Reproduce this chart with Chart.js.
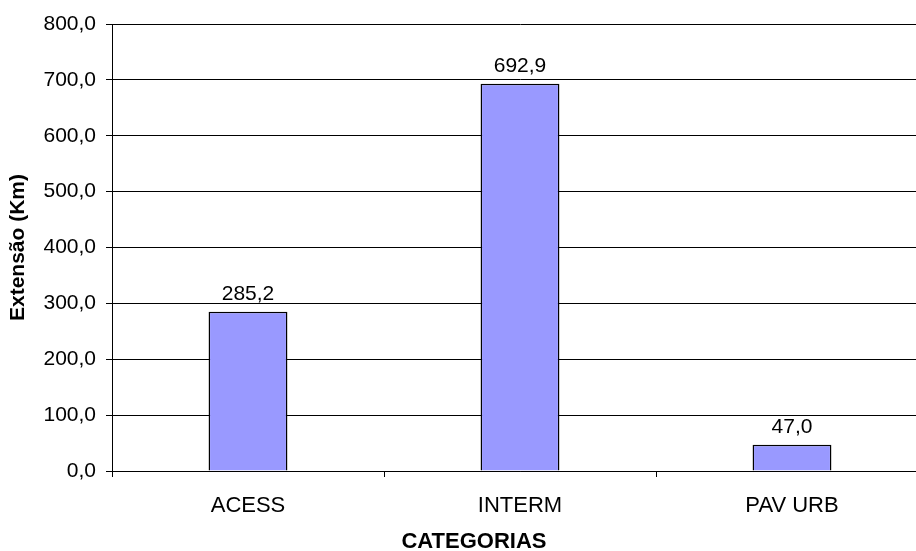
<!DOCTYPE html>
<html>
<head>
<meta charset="utf-8">
<script src="https://cdn.jsdelivr.net/npm/chart.js@4"></script>
<style>
    html, body { margin: 0; padding: 0; background: #fff; overflow: hidden; }
    #wrap { width: 916px; height: 551px; overflow: hidden; }
</style>
</head>
<body>
<div id="wrap"><canvas id="extChart" width="928" height="551"></canvas></div>
<script>
// Chart data
const categories = ["ACESS", "INTERM", "PAV URB"];
const extensao = [285.2, 692.9, 47.0];
const yTicks = [0, 100, 200, 300, 400, 500, 600, 700, 800];
const xTitle = "CATEGORIAS";

const fontName = "'Liberation Sans', Arial, sans-serif";

// Portuguese style number: 285,2
function fmt(v) {
    return v.toFixed(1).replace(".", ",");
}

// Value labels above each bar + x axis title
const barLabels = {
    id: "barLabels",
    afterDatasetsDraw(chart) {
        const ctx = chart.ctx;
        const meta = chart.getDatasetMeta(0);
        ctx.save();
        ctx.font = "21px " + fontName;
        ctx.fillStyle = "#000";
        ctx.textAlign = "center";
        ctx.textBaseline = "alphabetic";
        meta.data.forEach((bar, i) => {
            ctx.fillText(fmt(extensao[i]), bar.x, bar.y - 12);
        });
        // axis title, centred like the original
        ctx.font = "bold 22px " + fontName;
        ctx.fillText(xTitle, 474, 548);
        ctx.restore();
    }
};

const ctx = document.getElementById("extChart").getContext("2d");
new Chart(ctx, {
    type: "bar",
    data: {
        labels: categories,
        datasets: [{
            data: extensao,
            backgroundColor: "#9999FF",
            borderColor: "#000",
            borderWidth: 1.5,
            barPercentage: 0.29,
            categoryPercentage: 1
        }]
    },
    options: {
        responsive: false,
        animation: false,
        layout: { padding: { top: 24, right: 0, bottom: 0, left: 0 } },
        plugins: {
            legend: { display: false },
            tooltip: { enabled: false }
        },
        scales: {
            x: {
                grid: {
                    offset: true,
                    drawOnChartArea: false,
                    drawTicks: true,
                    tickLength: 6,
                    color: "#000"
                },
                border: { color: "#000", width: 1 },
                ticks: {
                    color: "#000",
                    font: { family: fontName, size: 22 },
                    padding: 16
                },
                afterFit(scale) { scale.height = 80; }
            },
            y: {
                min: 0,
                max: 800,
                afterBuildTicks(scale) {
                    scale.ticks = yTicks.map(v => ({ value: v }));
                },
                grid: {
                    color: "#000",
                    drawTicks: true,
                    tickLength: 6
                },
                border: { color: "#000", width: 1 },
                ticks: {
                    color: "#000",
                    font: { family: fontName, size: 21 },
                    padding: 10,
                    callback: v => fmt(v)
                },
                title: {
                    display: true,
                    text: "Extensão (Km)",
                    color: "#000",
                    font: { family: fontName, size: 21, weight: "bold", lineHeight: 1 },
                    padding: { top: 8, bottom: 0 }
                },
                afterFit(scale) { scale.width = 112; }
            }
        }
    },
    plugins: [barLabels]
});
</script>
</body>
</html>
